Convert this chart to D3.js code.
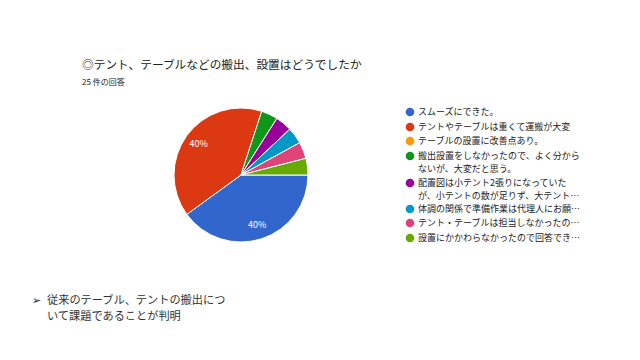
<!DOCTYPE html>
<html><head><meta charset="utf-8">
<script src="https://cdn.jsdelivr.net/npm/d3@7"></script>
<style>body{margin:0;background:#fff}svg{display:block}text{font-family:"Noto Sans CJK JP","Noto Sans",sans-serif}</style>
</head><body>
<svg id="c" width="640" height="360"></svg>
<script>
const categories = ["スムーズにできた。","テントやテーブルは重くて運搬が大変","テーブルの設置に改善点あり。","搬出設置をしなかったので、よく分からないが、大変だと思う。","配置図は小テント2張りになっていたが、小テントの数が足りず、大テント…","体調の関係で準備作業は代理人にお願…","テント・テーブルは担当しなかったの…","設置にかかわらなかったので回答でき…"];
const legendLines = [["スムーズにできた。"],["テントやテーブルは重くて運搬が大変"],["テーブルの設置に改善点あり。"],["搬出設置をしなかったので、よく分から","ないが、大変だと思う。"],["配置図は小テント2張りになっていた","が、小テントの数が足りず、大テント…"],["体調の関係で準備作業は代理人にお願…"],["テント・テーブルは担当しなかったの…"],["設置にかかわらなかったので回答でき…"]];
const values = [10,10,0,1,1,1,1,1];
const colors = ["#3366cc","#dc3912","#ff9900","#109618","#990099","#0099c6","#dd4477","#66aa00"];
const title = "◎テント、テーブルなどの搬出、設置はどうでしたか";
const subtitle = "25 件の回答";
const note = ["従来のテーブル、テントの搬出につ","いて課題であることが判明"];

const svg = d3.select("#c");
svg.append("text").attr("x",82).attr("y",68.5).attr("font-size",11.7).attr("fill","#212121").text(title);
svg.append("text").attr("x",82).attr("y",85).attr("font-size",8).attr("fill","#212121").text(subtitle);

const cx=241, cy=175, r=67;
const total = d3.sum(values);
const pie = d3.pie().sort(null).value(d=>d).startAngle(Math.PI/2).endAngle(Math.PI/2+2*Math.PI);
const arcs = pie(values);
const arc = d3.arc().innerRadius(0).outerRadius(r);
const g = svg.append("g").attr("transform",`translate(${cx},${cy})`);
g.selectAll("path").data(arcs.filter(a=>a.value>0)).join("path")
  .attr("d",arc).attr("fill",(d)=>colors[d.index]).attr("stroke","#fff").attr("stroke-width",1);
const larc = d3.arc().innerRadius(r*0.78).outerRadius(r*0.78);
g.selectAll("text.lbl").data(arcs.filter(a=>a.value/total>=0.05)).join("text")
  .attr("class","lbl")
  .attr("transform",d=>`translate(${larc.centroid(d)})`)
  .attr("text-anchor","middle").attr("dy","0.35em")
  .attr("font-size",9).attr("fill","#fff").attr("font-family","Arial, Liberation Sans, sans-serif")
  .text(d=>d3.format(".0%")(d.value/total));

const rowY = [112,127,141,156,183,209,223,238];
const lg = svg.append("g");
legendLines.forEach((lines,i)=>{
  lg.append("circle").attr("cx",410).attr("cy",rowY[i]).attr("r",4.3).attr("fill",colors[i]);
  lines.forEach((t,j)=>{
    lg.append("text").attr("x",418).attr("y",rowY[i]+j*12.5).attr("dy","0.35em")
      .attr("font-size",9).attr("fill","#222").text(t);
  });
});

svg.append("text").attr("x",32).attr("y",304).attr("font-size",10.5).attr("fill","#222").text("➢");
note.forEach((t,i)=>{
  svg.append("text").attr("x",47).attr("y",304+i*16).attr("font-size",11.2).attr("fill","#333").text(t);
});
</script>
</body></html>
